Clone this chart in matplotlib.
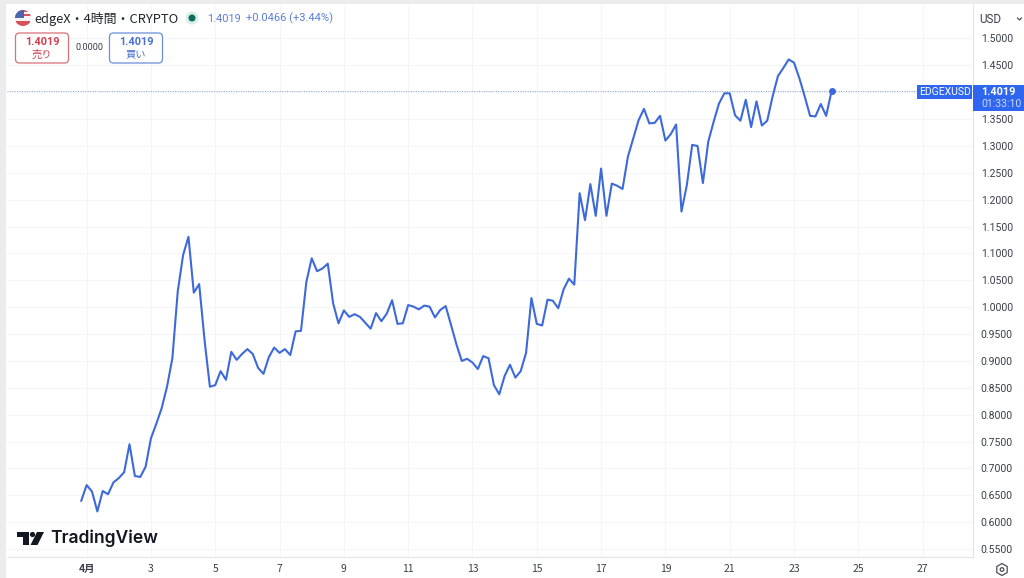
import numpy as np
import matplotlib
matplotlib.use('Agg')
import matplotlib.pyplot as plt
from matplotlib.patches import Circle, Rectangle, FancyBboxPatch, Polygon, RegularPolygon

# 4時間足の終値(チャートから読み取り)
prices = [
    0.640, 0.669, 0.657, 0.620, 0.658, 0.652, 0.674, 0.682, 0.693, 0.745,
    0.686, 0.684, 0.703, 0.756, 0.783, 0.812, 0.852, 0.905, 1.029, 1.097,
    1.131, 1.027, 1.043, 0.939, 0.852, 0.855, 0.881, 0.865, 0.917, 0.902,
    0.913, 0.922, 0.913, 0.887, 0.876, 0.907, 0.925, 0.915, 0.922, 0.911,
    0.955, 0.956, 1.047, 1.091, 1.067, 1.072, 1.081, 1.007, 0.970, 0.994,
    0.982, 0.987, 0.982, 0.971, 0.960, 0.989, 0.974, 0.988, 1.013, 0.969,
    0.970, 1.004, 1.001, 0.996, 1.003, 1.001, 0.981, 0.995, 1.002, 0.967,
    0.931, 0.900, 0.904, 0.897, 0.885, 0.909, 0.905, 0.855, 0.838, 0.872,
    0.893, 0.869, 0.881, 0.915, 1.017, 0.969, 0.966, 1.014, 1.012, 0.998,
    1.033, 1.053, 1.042, 1.212, 1.162, 1.229, 1.170, 1.258, 1.170, 1.230,
    1.226, 1.220, 1.280, 1.314, 1.348, 1.369, 1.342, 1.343, 1.356, 1.310,
    1.322, 1.340, 1.178, 1.227, 1.302, 1.300, 1.231, 1.308, 1.345, 1.379,
    1.398, 1.398, 1.357, 1.347, 1.386, 1.335, 1.383, 1.338, 1.347, 1.392,
    1.430, 1.445, 1.461, 1.455, 1.426, 1.392, 1.356, 1.355, 1.378, 1.356,
    1.4019,
]
day_ticks = [1, 3, 5, 7, 9, 11, 13, 15, 17, 19, 21, 23, 25, 27]
day_labels = ['4月', '3', '5', '7', '9', '11', '13', '15', '17', '19', '21', '23', '25', '27']
price_ticks = [0.55, 0.60, 0.65, 0.70, 0.75, 0.80, 0.85, 0.90, 0.95, 1.00, 1.05,
               1.10, 1.15, 1.20, 1.25, 1.30, 1.35, 1.45, 1.50]
grid_prices = price_ticks + [1.40]
last_price = 1.4019

line_color = '#3d69d9'
badge_color = '#2f66f0'
text_color = '#3a3e4a'
jp = ['Noto Sans CJK JP', 'DejaVu Sans']
num = ['Roboto', 'Noto Sans CJK JP']

W, H = 1024, 578
fig = plt.figure(figsize=(W / 100, H / 100), dpi=100, facecolor='white')

# チャート本体 (7..973px, 5..557px)
ax = fig.add_axes([7 / W, 1 - 557 / H, (973 - 7) / W, (557 - 5) / H])
x = np.arange(len(prices))
ax.plot(x, prices, color=line_color, lw=1.5, solid_joinstyle='round', zorder=3)
ax.plot(x[-1], prices[-1], 'o', color=line_color, ms=4, zorder=4)
ax.axhline(last_price, color='#7f9fc4', lw=0.7, ls=(0, (1, 1.5)), zorder=2)
ax.set_xlim(-13.86, 166.4)
ax.set_ylim(0.5352, 1.5623)

tick_pos = [1 + (d - 1) * 6 for d in day_ticks]
ax.set_xticks(tick_pos)
ax.set_xticklabels(day_labels, family=jp, fontsize=7.5, color=text_color)
ax.get_xticklabels()[0].set_fontweight('bold')
ax.set_yticks(grid_prices)
ax.set_yticklabels(['%.4f' % p if p != 1.40 else '' for p in grid_prices],
                   family=num, fontsize=7.5, color=text_color)
ax.yaxis.tick_right()
ax.tick_params(axis='x', length=0, pad=5)
ax.tick_params(axis='y', length=0, pad=5.6)
ax.grid(True, color='#f4f5f8', lw=0.8)
ax.set_axisbelow(True)
for s in ['top', 'left']:
    ax.spines[s].set_visible(False)
for s in ['right', 'bottom']:
    ax.spines[s].set_color('#e2e4ea')
    ax.spines[s].set_linewidth(0.8)

# ヘッダーやロゴはピクセル座標のオーバーレイに描く
ov = fig.add_axes([0, 0, 1, 1], zorder=10)
ov.set_xlim(0, W)
ov.set_ylim(H, 0)
ov.axis('off')
ov.patch.set_alpha(0)

ov.add_patch(Rectangle((0, 0), W, 4, color='#ececec', lw=0))
ov.add_patch(Rectangle((0, 0), 6, H, color='#ececec', lw=0))

# 国旗アイコン
flag = Circle((23, 18), 8, color='#f4f4f6', lw=0)
ov.add_patch(flag)
for yy, c in [(10, '#d9505a'), (14, '#d9505a'), (22, '#d9505a')]:
    r = Rectangle((15, yy), 16, 2.4, color=c, lw=0)
    ov.add_patch(r)
    r.set_clip_path(flag)
canton = Rectangle((15, 10), 9, 8, color='#4a66b0', lw=0)
ov.add_patch(canton)
canton.set_clip_path(flag)
lower = Rectangle((15, 21), 16, 5, color='#d9505a', lw=0)
ov.add_patch(lower)
lower.set_clip_path(flag)

ov.text(34, 18.5, 'edgeX・4時間・CRYPTO', family=jp, fontsize=9.3, color='#22252e', va='center')
ov.add_patch(Circle((192, 18), 6.5, color='#d8efe9', lw=0))
ov.add_patch(Circle((192, 18), 3.5, color='#0b6e5c', lw=0))
ov.text(207, 18.5, '1.4019', family=num, fontsize=7.9, color='#5a7fd6', va='center')
ov.text(246, 18.5, '+0.0466 (+3.44%)', family=num, fontsize=8, color='#5a7fd6', va='center')

# 売り / 買い ボタン
for x0, c, top, bottom in [(15.5, '#d9707a', '1.4019', '売り'), (109.5, '#6a8fd8', '1.4019', '買い')]:
    ov.add_patch(FancyBboxPatch((x0 + 3, 36), 47, 24, boxstyle='round,pad=3,rounding_size=4',
                                fc='white', ec=c, lw=0.9))
    tc = '#d1404f' if bottom == '売り' else '#4a70d0'
    ov.text(x0 + 26.5, 42, top, family=num, fontsize=7.9, fontweight='bold', color=tc, ha='center', va='center')
    ov.text(x0 + 26.5, 54.5, bottom, family=jp, fontsize=7.4, color=tc, ha='center', va='center')
ov.text(89, 47.5, '0.0000', family=num, fontsize=6.6, color=text_color, ha='center', va='center')

# 右上の通貨
ov.text(979, 19.5, 'USD', family=num, fontsize=8.4, color=text_color, va='center')
ov.plot([1017.5, 1019.5, 1021.5], [18, 20, 18], color=text_color, lw=0.8)

# 価格ラベル
ov.add_patch(Rectangle((917, 85), 55, 14, color=badge_color, lw=0))
ov.text(944.5, 92, 'EDGEXUSD', family=num, fontsize=7.5, color='white', ha='center', va='center')
ov.add_patch(Rectangle((973, 85), 51, 26, color=badge_color, lw=0))
ov.text(981, 92, '1.4019', family=num, fontsize=7.8, fontweight='bold', color='white', va='center')
ov.text(981, 104, '01:33:10', family=num, fontsize=7.6, color='#c9d8fb', va='center')

# TradingView ロゴ
ov.add_patch(Polygon([(17, 532), (29, 532), (29, 545), (23, 545), (23, 537), (17, 537)], color='#131722', lw=0))
ov.add_patch(Circle((32.5, 534.5), 2.6, color='#131722', lw=0))
ov.add_patch(Polygon([(37, 532), (44, 532), (37.5, 545), (30.5, 545)], color='#131722', lw=0))
ov.text(50, 538.5, 'TradingView', family=['Inter', 'Roboto'], fontsize=12.6, fontweight='semibold',
        color='#131722', va='center')

# 設定アイコン
ov.add_patch(RegularPolygon((1002, 569.5), 6, radius=6, fc='white', ec='#4a4e59', lw=0.9))
ov.add_patch(Circle((1002, 569.5), 1.8, fc='white', ec='#4a4e59', lw=0.9))

fig.savefig('out.png', dpi=100)
